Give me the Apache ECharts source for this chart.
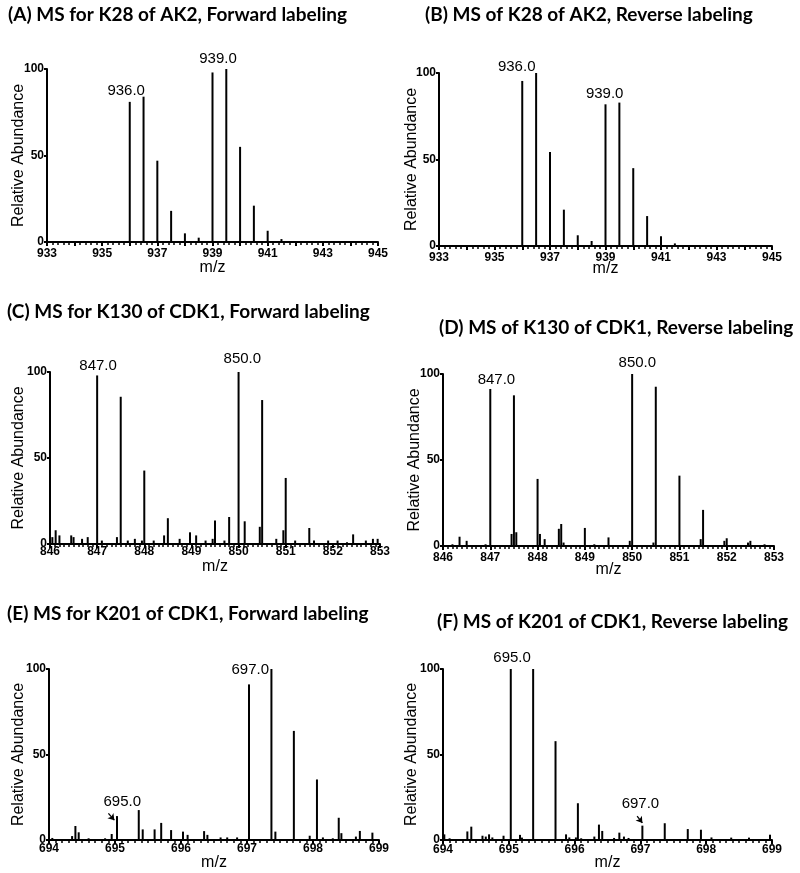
<!DOCTYPE html>
<html>
<head>
<meta charset="utf-8">
<script src="https://cdn.jsdelivr.net/npm/echarts@6/dist/echarts.min.js"></script>
<style>
html,body{margin:0;padding:0;background:#fff;}
#chart{width:800px;height:873px;}
</style>
</head>
<body>
<div id="chart"></div>
<script>
// ---------- Data ----------
const titles = [
  '(A) MS for K28 of AK2, Forward labeling',
  '(B) MS of K28 of AK2, Reverse labeling',
  '(C) MS for K130 of CDK1, Forward labeling',
  '(D) MS of K130 of CDK1, Reverse labeling',
  '(E) MS for K201 of CDK1, Forward labeling',
  '(F) MS of K201 of CDK1, Reverse labeling'
];
const xRanges = [[933, 945], [933, 945], [846, 853], [846, 853], [694, 699], [694, 699]];

const mzA = [936.0, 936.5, 937.0, 937.5, 938.0, 938.5, 939.0, 939.5, 940.0, 940.5, 941.0, 941.5];
const intA = [81, 84, 47, 18, 5, 2.5, 98, 100, 55, 21, 6.5, 1.7];

const mzB = [936.0, 936.5, 937.0, 937.5, 938.0, 938.5, 939.0, 939.5, 940.0, 940.5, 941.0, 941.5];
const intB = [95.4, 100, 54.3, 21, 6.2, 2.9, 81.9, 82.9, 45, 17.3, 5.6, 1.5];

const mzC = [846.05, 846.12, 846.2, 846.45, 846.5, 846.68, 846.8, 847.0, 847.1, 847.42, 847.5, 847.65, 847.8, 847.95, 848.0, 848.2, 848.42, 848.5, 848.75, 848.97, 849.1, 849.3, 849.45, 849.5, 849.7, 849.8, 850.0, 850.13, 850.45, 850.5, 850.8, 850.95, 851.0, 851.2, 851.5, 851.6, 851.9, 852.1, 852.3, 852.43, 852.7, 852.85, 852.95];
const intC = [4, 8, 5, 5, 4, 3, 4, 98, 2, 4, 85.6, 2, 3, 2, 42.7, 2, 5, 15, 3, 6.8, 5, 2, 3, 13.6, 2, 15.7, 100, 13.2, 10, 83.7, 3, 8, 38.4, 2, 9.3, 2, 2, 2, 1, 5.6, 2, 3, 3];

const mzD = [846.2, 846.35, 846.5, 846.9, 847.0, 847.45, 847.5, 847.55, 848.0, 848.05, 848.15, 848.45, 848.5, 848.55, 849.0, 849.2, 849.5, 849.95, 850.0, 850.45, 850.5, 851.0, 851.45, 851.5, 851.95, 852.0, 852.45, 852.5, 852.8];
const intD = [1, 5.4, 3, 1, 91.3, 7, 87.6, 8, 39, 7, 4, 10, 12.8, 2, 10.5, 1, 5, 3, 100, 2, 92.6, 40.9, 4, 21, 3, 4.5, 2, 3, 1];

const mzE = [694.05, 694.35, 694.4, 694.45, 694.6, 694.85, 694.95, 695.03, 695.36, 695.42, 695.6, 695.7, 695.85, 696.03, 696.1, 696.35, 696.4, 696.6, 696.7, 696.85, 697.03, 697.37, 697.43, 697.71, 697.95, 698.06, 698.15, 698.3, 698.39, 698.43, 698.65, 698.71, 698.9];
const intE = [1.2, 2.3, 8.2, 4.5, 1, 1, 3.5, 14, 17.5, 6.2, 6.2, 10, 5.8, 4.9, 3, 5.2, 3, 1.5, 1.5, 1.5, 91, 100, 4.9, 63.8, 2.5, 35.4, 1.5, 1, 13, 4, 2, 5.3, 4.3];

const mzF = [694.02, 694.1, 694.37, 694.43, 694.6, 694.65, 694.7, 694.75, 694.92, 695.03, 695.17, 695.2, 695.37, 695.71, 695.87, 695.92, 696.02, 696.05, 696.1, 696.3, 696.37, 696.42, 696.6, 696.68, 696.75, 696.82, 697.03, 697.37, 697.72, 697.92, 698.08, 698.38, 698.65, 698.97];
const intF = [3.3, 1, 5, 7.8, 2.5, 2, 3.3, 1.5, 2.5, 100, 3, 1.4, 100, 57.8, 3.3, 1.5, 1.5, 21.5, 1, 2, 9, 5.3, 1.2, 4.3, 2, 1.2, 8.4, 9.8, 6.4, 6, 1.5, 1.4, 1.4, 3.1];

// peak annotations: [m/z, abundance, text]
const labelsA = [[935.87, 83, '936.0'], [939.2, 101.5, '939.0']];
const labelsB = [[935.8, 99, '936.0'], [938.97, 83.5, '939.0']];
const labelsC = [[847.02, 99.2, '847.0'], [850.08, 103, '850.0']];
const labelsD = [[847.13, 92, '847.0'], [850.11, 102.2, '850.0']];
const labelsE = [[695.11, 17.8, '695.0'], [697.05, 95.2, '697.0']];
const labelsF = [[695.05, 102.4, '695.0'], [697.0, 16.5, '697.0']];

// arrows: [fromMz, fromAbundance, toMz, toAbundance]
const arrowsE = [[694.90, 15.6, 694.99, 11.6]];
const arrowsF = [[696.95, 14.0, 697.03, 10.0]];

const yTicks = [0, 50, 100];

// ---------- Layout (pixels) ----------
const grids = [
  {left: 47, top: 69, width: 331, height: 173},
  {left: 439, top: 73, width: 333, height: 173},
  {left: 50, top: 372, width: 330, height: 172},
  {left: 443, top: 374, width: 331, height: 172},
  {left: 49, top: 669, width: 330, height: 171},
  {left: 443, top: 669, width: 329, height: 171}
];
const titlePos = [
  {left: 8, top: 5}, {left: 425, top: 5},
  {left: 7, top: 302}, {left: 439, top: 318},
  {left: 7, top: 604}, {left: 437, top: 612}
];
const labelMargins = [6, 6, 2, 6, 3, 4];
const xNameGaps = [18, 15, 15, 16, 15, 15];
const yNameGaps = [20, 19, 23, 20, 22, 23];
const minorSplits = [5, 5, 10, 10, 10, 10];

const mzs = [mzA, mzB, mzC, mzD, mzE, mzF];
const ints = [intA, intB, intC, intD, intE, intF];
const labels = [labelsA, labelsB, labelsC, labelsD, labelsE, labelsF];
const arrows = [[], [], [], [], arrowsE, arrowsF];

const tickFont = 'Liberation Sans, Arial, sans-serif';

const option = {
  animation: false,
  backgroundColor: '#fff',
  title: titles.map((t, i) => ({
    text: t,
    left: titlePos[i].left,
    top: titlePos[i].top,
    padding: 0,
    textStyle: {fontFamily: 'Lato', fontWeight: 'bold', fontSize: 19, color: '#000'}
  })),
  grid: grids.map(g => Object.assign({containLabel: false}, g)),
  xAxis: xRanges.map((r, i) => ({
    type: 'value',
    gridIndex: i,
    min: r[0],
    max: r[1],
    interval: 1,
    name: 'm/z',
    nameLocation: 'middle',
    nameGap: xNameGaps[i],
    nameMoveOverlap: false,
    nameTextStyle: {fontFamily: tickFont, fontSize: 16, color: '#000'},
    axisLine: {show: true, onZero: false, lineStyle: {color: '#000', width: 2}},
    axisTick: {show: true, length: 4, lineStyle: {color: '#000', width: 2}},
    minorTick: {show: true, splitNumber: minorSplits[i], length: 3, lineStyle: {color: '#000', width: 1.5}},
    splitLine: {show: false},
    axisLabel: {
      margin: labelMargins[i],
      fontFamily: tickFont, fontSize: 12, fontWeight: 'bold', color: '#000',
      formatter: v => (r[1] - r[0] > 10 ? ((Math.round(v) - r[0]) % 2 === 0 ? String(Math.round(v)) : '') : String(Math.round(v)))
    }
  })),
  yAxis: xRanges.map((r, i) => ({
    type: 'value',
    gridIndex: i,
    min: yTicks[0],
    max: yTicks[yTicks.length - 1],
    interval: yTicks[1] - yTicks[0],
    name: 'Relative Abundance',
    nameLocation: 'middle',
    nameGap: yNameGaps[i],
    nameMoveOverlap: false,
    nameTextStyle: {fontFamily: tickFont, fontSize: 16, color: '#000'},
    axisLine: {show: true, lineStyle: {color: '#000', width: 2}},
    axisTick: {show: true, length: 3, lineStyle: {color: '#000', width: 2}},
    splitLine: {show: false},
    axisLabel: {margin: 3, fontFamily: tickFont, fontSize: 12, fontWeight: 'bold', color: '#000'}
  })),
  series: []
};

for (let i = 0; i < 6; i++) {
  option.series.push({
    type: 'bar',
    xAxisIndex: i,
    yAxisIndex: i,
    barWidth: 2,
    itemStyle: {color: '#000'},
    data: mzs[i].map((m, k) => [m, ints[i][k]])
  });
  const s = {
    type: 'scatter',
    xAxisIndex: i,
    yAxisIndex: i,
    symbolSize: 0,
    silent: true,
    clip: false,
    itemStyle: {opacity: 1, color: '#000'},
    label: {
      show: true, position: 'top', distance: 0,
      fontFamily: tickFont, fontSize: 15, color: '#000',
      formatter: p => p.data[2]
    },
    data: labels[i]
  };
  if (arrows[i].length) {
    s.markLine = {
      silent: true,
      symbol: ['none', 'arrow'],
      symbolSize: 6,
      label: {show: false},
      lineStyle: {color: '#000', width: 1.3, type: 'solid'},
      data: arrows[i].map(a => [{coord: [a[0], a[1]]}, {coord: [a[2], a[3]]}])
    };
  }
  option.series.push(s);
}

const chart = echarts.init(document.getElementById('chart'), null, {renderer: 'canvas'});
chart.setOption(option);
</script>
</body>
</html>
